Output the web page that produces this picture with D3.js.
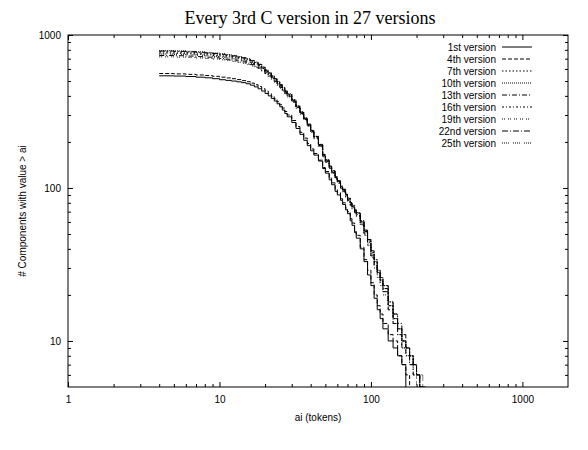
<!DOCTYPE html>
<html>
<head>
<meta charset="utf-8">
<script src="https://cdn.jsdelivr.net/npm/d3@7"></script>
<style>
  body { margin: 0; background: #fff; }
  text { font-family: "Liberation Sans", Arial, sans-serif; font-size: 10px; fill: #000; }
  .title { font-family: "Liberation Serif", "Times New Roman", serif; font-size: 18px; }
</style>
</head>
<body>
<div id="chart"></div>
<script>

// ai (tokens) grid shared by all versions
var ai = [4, 5, 6, 7, 8, 9, 10, 11, 12, 13,
          14, 15, 16, 17, 18, 19, 20, 21, 22, 23,
          24, 25, 26, 27, 28, 30, 32, 34, 36, 38,
          40, 42, 45, 48, 50, 53, 55, 58, 60, 63,
          65, 68, 70, 73, 75, 78, 80, 85, 90, 95,
          100, 105, 110, 115, 120, 130, 140, 150, 160, 170,
          180, 190, 200, 210, 220, 230];

// # components with value > ai, per version
var v1 = [541, 539, 535, 530, 525, 518, 510, 505, 500, 494,
          488, 480, 470, 458, 445, 430, 415, 400, 385, 370,
          355, 340, 323, 307, 292, 268, 245, 224, 205, 189,
          175, 164, 150, 134, 125, 113, 105, 95, 90, 83,
          78, 72, 68, 61, 57, 51, 47, 40, 33, 27,
          23, 19, 16, 14, 12, 10, 9, 8, 7, 1,
          1, 1, 1, 1, 1, 1];
var v4 = [560, 557, 553, 548, 543, 537, 530, 524, 518, 511,
          503, 495, 485, 473, 460, 445, 430, 414, 398, 382,
          366, 350, 333, 316, 300, 276, 252, 231, 212, 195,
          180, 168, 152, 136, 128, 116, 108, 98, 93, 85,
          80, 74, 70, 63, 59, 52, 49, 41, 34, 29,
          24, 20, 17, 15, 13, 11, 10, 8, 7, 6,
          1, 1, 1, 1, 1, 1];
var v7 = [762, 759, 754, 748, 742, 735, 727, 719, 710, 700,
          690, 677, 662, 646, 628, 603, 575, 552, 530, 508,
          486, 465, 445, 425, 405, 372, 340, 310, 283, 258,
          235, 215, 190, 164, 150, 137, 128, 117, 110, 102,
          97, 90, 85, 79, 76, 71, 68, 60, 52, 45,
          38, 33, 28, 25, 22, 17, 14, 12, 10, 9,
          8, 7, 6, 5, 1, 1];
var v10 = [790, 787, 782, 776, 769, 762, 753, 744, 735, 724,
           713, 699, 683, 665, 645, 618, 590, 566, 542, 519,
           497, 475, 453, 432, 412, 378, 345, 315, 287, 261,
           238, 218, 193, 166, 153, 139, 130, 119, 112, 103,
           98, 91, 86, 80, 77, 72, 69, 61, 53, 46,
           39, 34, 29, 26, 23, 18, 15, 12, 10, 9,
           8, 7, 6, 5, 5, 1];
var v13 = [735, 732, 728, 722, 716, 710, 702, 694, 686, 677,
           667, 654, 640, 625, 608, 584, 560, 539, 518, 497,
           476, 455, 436, 417, 398, 366, 335, 306, 280, 255,
           232, 212, 188, 161, 148, 135, 126, 115, 108, 100,
           95, 88, 83, 77, 74, 69, 66, 58, 50, 43,
           36, 31, 27, 24, 21, 16, 13, 11, 9, 8,
           7, 6, 6, 5, 1, 1];
var v16 = [775, 772, 767, 761, 755, 748, 740, 731, 722, 712,
           701, 687, 672, 655, 636, 609, 582, 559, 536, 514,
           492, 470, 449, 428, 408, 375, 342, 312, 285, 260,
           236, 216, 191, 165, 151, 138, 129, 118, 111, 102,
           97, 90, 85, 79, 76, 71, 68, 60, 52, 45,
           38, 33, 28, 25, 22, 17, 14, 12, 10, 9,
           8, 7, 6, 1, 1, 1];
var v19 = [720, 717, 713, 708, 702, 696, 688, 680, 672, 663,
           654, 641, 628, 613, 597, 574, 552, 532, 512, 491,
           470, 450, 431, 412, 394, 362, 332, 304, 278, 253,
           230, 210, 186, 160, 147, 134, 125, 114, 107, 99,
           94, 87, 82, 76, 73, 68, 65, 57, 49, 42,
           35, 30, 26, 23, 20, 16, 13, 11, 9, 8,
           7, 6, 5, 5, 1, 1];
var v22 = [785, 782, 777, 771, 764, 757, 748, 739, 730, 720,
           709, 695, 679, 661, 642, 615, 588, 564, 540, 517,
           495, 473, 451, 430, 410, 376, 343, 313, 286, 261,
           237, 217, 192, 165, 152, 139, 130, 118, 111, 103,
           98, 91, 86, 80, 77, 72, 69, 61, 53, 46,
           39, 34, 29, 26, 23, 18, 15, 13, 11, 9,
           8, 7, 6, 5, 1, 1];
var v25 = [750, 747, 743, 737, 731, 724, 716, 708, 699, 689,
           679, 666, 652, 636, 618, 593, 568, 546, 524, 502,
           481, 460, 440, 421, 402, 370, 338, 309, 282, 257,
           234, 214, 189, 163, 149, 136, 127, 116, 109, 101,
           96, 89, 84, 78, 75, 70, 67, 59, 51, 44,
           37, 32, 28, 25, 22, 17, 14, 12, 10, 9,
           8, 7, 6, 6, 5, 1];

var names = ["1st version", "4th version", "7th version", "10th version", "13th version",
             "16th version", "19th version", "22nd version", "25th version"];
var counts = [v1, v4, v7, v10, v13, v16, v19, v22, v25];

var xMajor = [1, 10, 100, 1000];
var yMajor = [10, 100, 1000];

var dashes = ["none", "4,2", "1.5,2", "1,1", "5,2,1,2", "2,2,1,2", "1,1,1,3", "6,2,1,2", "1,1,1,1,1,1,1,4"];

var W = 588, H = 450;
var margin = { top: 35, right: 20, bottom: 63, left: 68 };
var width = W - margin.left - margin.right,
    height = H - margin.top - margin.bottom;

var svg = d3.select("#chart").append("svg")
    .attr("width", W)
    .attr("height", H);

var g = svg.append("g").attr("transform", "translate(" + margin.left + "," + margin.top + ")");

var x = d3.scaleLog().domain([1, 2000]).range([0, width]);
var y = d3.scaleLog().domain([5, 1000]).range([height, 0]);

// minor ticks between decades
var xMinor = [], yMinor = [];
[1, 10, 100, 1000].forEach(function(d) {
    for (var k = 2; k <= 9; k++) { if (d * k < 2000) xMinor.push(d * k); }
});
[1, 10, 100].forEach(function(d) {
    for (var k = 2; k <= 9; k++) { if (d * k > 5) yMinor.push(d * k); }
});

function tickAxis(axis, vals, size, fmt) {
    return axis.tickValues(vals).tickSizeInner(size).tickSizeOuter(0).tickFormat(fmt);
}

var noLabel = function() { return ""; };

g.append("g").attr("transform", "translate(0," + height + ")")
    .call(tickAxis(d3.axisBottom(x), xMajor, -5, d3.format("d")).tickPadding(9));
g.append("g").attr("transform", "translate(0," + height + ")")
    .call(tickAxis(d3.axisBottom(x), xMinor, -3, noLabel));
g.append("g").call(tickAxis(d3.axisTop(x), xMajor, -5, noLabel));
g.append("g").call(tickAxis(d3.axisTop(x), xMinor, -3, noLabel));

g.append("g").call(tickAxis(d3.axisLeft(y), yMajor, -5, d3.format("d")).tickPadding(7));
g.append("g").call(tickAxis(d3.axisLeft(y), yMinor, -3, noLabel));
g.append("g").attr("transform", "translate(" + width + ",0)")
    .call(tickAxis(d3.axisRight(y), yMajor, -5, noLabel));
g.append("g").attr("transform", "translate(" + width + ",0)")
    .call(tickAxis(d3.axisRight(y), yMinor, -3, noLabel));

g.selectAll(".domain").remove();
g.selectAll(".tick line").attr("stroke", "#000");
g.selectAll(".tick text").style("font-family", "Liberation Sans, Arial, sans-serif").style("font-size", "10px");

g.append("rect")
    .attr("width", width)
    .attr("height", height)
    .attr("fill", "none")
    .attr("stroke", "#000")
    .attr("stroke-width", 1);

g.append("defs").append("clipPath").attr("id", "clip")
    .append("rect").attr("width", width).attr("height", height);

var line = d3.line()
    .x(function(d) { return x(d[0]); })
    .y(function(d) { return y(d[1]); })
    .curve(d3.curveStepAfter);

var plot = g.append("g").attr("clip-path", "url(#clip)");

counts.forEach(function(c, i) {
    var pts = ai.map(function(a, j) { return [a, c[j]]; });
    plot.append("path")
        .datum(pts)
        .attr("d", line)
        .attr("fill", "none")
        .attr("stroke", "#000")
        .attr("stroke-width", 1)
        .attr("stroke-dasharray", dashes[i]);
});

// legend
var legend = g.append("g").attr("transform", "translate(" + (width - 72) + ",12)");
names.forEach(function(n, i) {
    var row = legend.append("g").attr("transform", "translate(0," + (i * 12) + ")");
    row.append("text")
        .attr("x", 0)
        .attr("dy", "0.35em")
        .attr("text-anchor", "end")
        .text(n);
    row.append("line")
        .attr("x1", 6).attr("x2", 36)
        .attr("stroke", "#000")
        .attr("stroke-width", 1)
        .attr("stroke-dasharray", dashes[i]);
});

svg.append("text")
    .attr("class", "title")
    .attr("x", margin.left + width / 2 - 8)
    .attr("y", 24)
    .attr("text-anchor", "middle")
    .text("Every 3rd C version in 27 versions");

svg.append("text")
    .attr("x", margin.left + width / 2)
    .attr("y", 421)
    .attr("text-anchor", "middle")
    .text("ai (tokens)");

svg.append("text")
    .attr("transform", "translate(26," + (margin.top + height / 2) + ") rotate(-90)")
    .attr("text-anchor", "middle")
    .text("# Components with value > ai");

</script>
</body>
</html>
